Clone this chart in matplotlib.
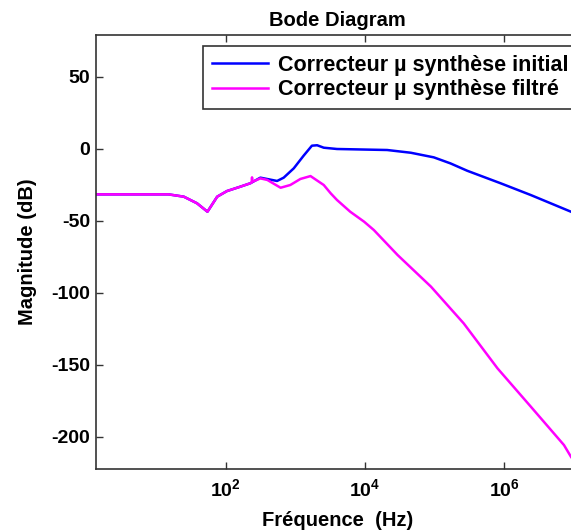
import numpy as np
import matplotlib
matplotlib.use("Agg")
import matplotlib.pyplot as plt
from matplotlib.ticker import FixedLocator, FixedFormatter, NullLocator

plt.rcParams['font.family'] = ['Liberation Sans', 'DejaVu Sans']
plt.rcParams['font.weight'] = 'bold'
plt.rcParams['mathtext.fontset'] = 'custom'
plt.rcParams['mathtext.rm'] = 'Liberation Sans:bold'
plt.rcParams['mathtext.bf'] = 'Liberation Sans:bold'
plt.rcParams['mathtext.it'] = 'Liberation Sans:bold'

# --- data (log10 of frequency in Hz, magnitude in dB) ---
filt_logf = [0.135, 1.0, 1.18, 1.40, 1.59, 1.74, 1.88, 2.02, 2.21, 2.355, 2.375, 2.38, 2.385,
             2.50, 2.60, 2.79, 2.93, 3.075, 3.22, 3.41, 3.51, 3.60, 3.79, 3.99, 4.13,
             4.47, 4.95, 5.42, 5.905, 6.385, 6.86, 6.96, 7.09]
filt_db = [-31.7, -31.7, -31.7, -33.3, -37.9, -43.75, -33.3, -29.4, -26.4, -24.0, -23.5, -19.9, -23.0,
           -20.6, -21.7, -27.1, -25.2, -21.0, -19.0, -25.2, -31.0, -35.6, -43.75, -50.7, -56.5,
           -73.8, -95.8, -121.3, -152.5, -179.2, -205.8, -213.9, -222.5]

init_logf = [0.135, 1.0, 1.18, 1.40, 1.59, 1.74, 1.88, 2.02, 2.21, 2.355, 2.50,
             2.74, 2.835, 2.98, 3.12, 3.24, 3.315, 3.41, 3.60, 4.32, 4.66, 4.99,
             5.23, 5.47, 5.95, 6.385, 6.96, 7.09]
init_db = [-31.7, -31.7, -31.7, -33.3, -37.9, -43.75, -33.3, -29.4, -26.4, -24.0, -20.1,
           -22.4, -20.1, -13.6, -4.9, 2.1, 2.4, 0.7, -0.2, -0.9, -2.8, -6.0,
           -10.2, -15.3, -24.0, -32.2, -43.75, -46.5]

labels = ['Correcteur \u00b5 synth\u00e8se initial', 'Correcteur \u00b5 synth\u00e8se filtr\u00e9']
xtick_vals = [1e2, 1e4, 1e6]
xtick_labels = [r'$\mathbf{10^{2}}$', r'$\mathbf{10^{4}}$', r'$\mathbf{10^{6}}$']
ytick_vals = [-200, -150, -100, -50, 0, 50]

W, H = 571, 531
fig = plt.figure(figsize=(W / 100, H / 100), dpi=100)
ax = fig.add_axes([95.7 / W, 62.3 / H, 484.3 / W, 433.4 / H])

f_init = 10 ** np.array(init_logf)
f_filt = 10 ** np.array(filt_logf)
ax.plot(f_init, init_db, color='#0000ff', lw=1.8, label=labels[0])
ax.plot(f_filt, filt_db, color='#ff00ff', lw=1.8, label=labels[1])

ax.set_xscale('log')
ax.set_xlim(10 ** 0.135, 10 ** 7.09)
ax.set_ylim(-222.2, 78.75)

ax.xaxis.set_major_locator(FixedLocator(xtick_vals))
ax.xaxis.set_major_formatter(FixedFormatter(xtick_labels))
ax.xaxis.set_minor_locator(NullLocator())
ax.set_yticks(ytick_vals)
ax.set_yticklabels([str(v) for v in ytick_vals])

ax.tick_params(direction='in', length=5, width=1, color='#333333',
               top=True, right=True, labelsize=14, pad=4)
ax.tick_params(axis='x', pad=7)
for lab in ax.get_xticklabels() + ax.get_yticklabels():
    lab.set_fontweight('bold')
for s in ax.spines.values():
    s.set_color('#333333')
    s.set_linewidth(1.2)

ax.set_title('Bode Diagram', fontsize=14.5, fontweight='bold', pad=7)
ax.set_xlabel('Fr\u00e9quence  (Hz)', fontsize=14.5, fontweight='bold', labelpad=8)
ax.set_ylabel('Magnitude (dB)', fontsize=14.5, fontweight='bold', labelpad=10)

leg = ax.legend(loc='upper left', bbox_to_anchor=(203.3 / W, 1 - 46 / H),
                bbox_transform=fig.transFigure, borderaxespad=0,
                prop={'size': 15.5, 'weight': 'bold'}, handlelength=2.6,
                handletextpad=0.45, borderpad=0.4, labelspacing=0.18,
                fancybox=False, framealpha=1)
leg.get_frame().set_edgecolor('#333333')
leg.get_frame().set_linewidth(1.2)

fig.savefig('out.png', dpi=100)
